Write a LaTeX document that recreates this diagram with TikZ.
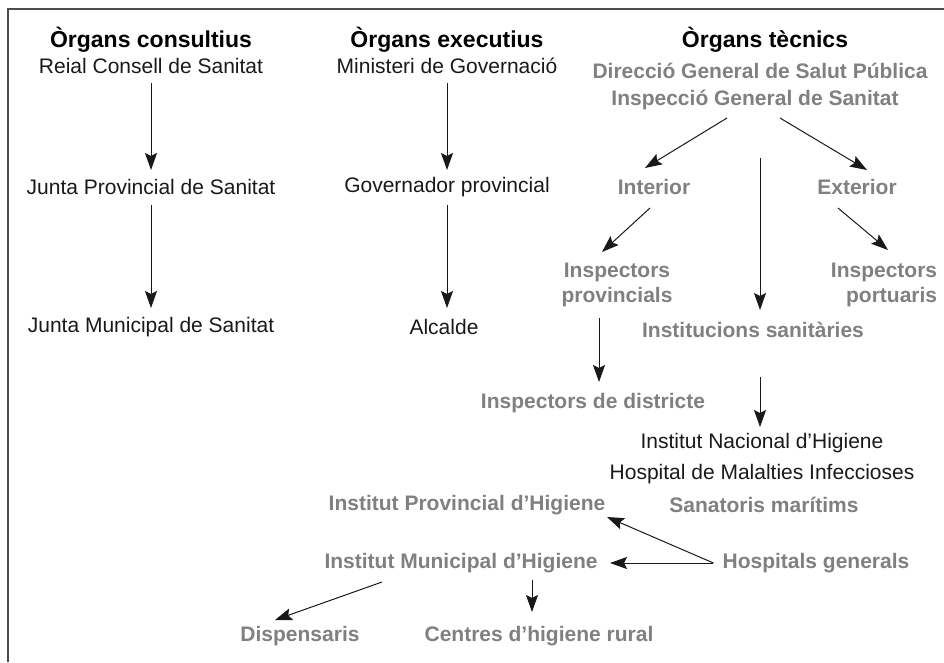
\documentclass[tikz,border=0pt]{standalone}
\usepackage{fontspec}
\setmainfont{Liberation Sans}
\usepackage{tikz}
\usetikzlibrary{arrows.meta,positioning,calc}

\definecolor{txtgrey}{gray}{0.5}
\definecolor{framegrey}{gray}{0.3}

\begin{document}
\begin{tikzpicture}[x=1pt,y=-1pt,on grid,
  head/.style={font=\fontsize{23}{27}\selectfont\bfseries,text=black,inner sep=0pt},
  plain/.style={font=\fontsize{21}{25}\selectfont,text=black!90,inner sep=0pt},
  grey/.style={font=\fontsize{21}{25}\selectfont\bfseries,text=txtgrey,inner sep=0pt},
  arr/.style={-{Stealth[length=17pt,width=12pt,inset=3pt]},line width=1pt,black!90}]
  \useasboundingbox (0,0) rectangle (944,662);
  \draw[framegrey,line width=1.5pt] (8,662) -- (8,9) -- (944,9);

  % column headings
  \node[head] (h1) at (151,40) {Òrgans consultius};
  \node[head] (h2) at (447,40) {Òrgans executius};
  \node[head] (h3) at (765,40) {Òrgans tècnics};

  % consultius
  \node[plain] (c1a) [below=26pt of h1]  {Reial Consell de Sanitat};
  \node[plain] (c1b) [below=121pt of c1a] {Junta Provincial de Sanitat};
  \node[plain] (c1c) [below=140pt of c1b] {Junta Municipal de Sanitat};

  % executius
  \node[plain] (c2a) [below=26pt of h2]  {Ministeri de Governació};
  \node[plain] (c2b) [below=121pt of c2a] {Governador provincial};
  \node[plain] (c2c) [below left=140pt and 3pt of c2b] {Alcalde};

  % tecnics
  \node[grey] (dg)  [below left=31pt and 5pt of h3]   {Direcció General de Salut Pública};
  \node[grey] (igs) [below left=29pt and 5pt of dg]   {Inspecció General de Sanitat};
  \node[grey] (int) [below left=87pt and 101pt of igs]  {Interior};
  \node[grey] (ext) [below right=87pt and 102pt of igs] {Exterior};
  \node[grey,align=center] (ipv) [below left=98pt and 37pt of int]  {Inspectors\\provincials};
  \node[grey,align=right]  (ipt) [below right=98pt and 27pt of ext] {Inspectors\\portuaris};
  \node[grey] (idi) [below left=118pt and 24pt of ipv] {Inspectors de districte};
  \node[grey] (ins) [below left=230pt and 2pt of igs]  {Institucions sanitàries};
  \node[plain] (inh) [below right=113pt and 9pt of ins] {Institut Nacional d’Higiene};
  \node[plain] (hmi) [below=31pt of inh] {Hospital de Malalties Infeccioses};
  \node[grey] (smr) [below right=31pt and 2pt of hmi] {Sanatoris marítims};
  \node[grey] (iph) [left=297pt of smr] {Institut Provincial d’Higiene};
  \node[grey] (imh) [below left=58pt and 6pt of iph] {Institut Municipal d’Higiene};
  \node[grey] (hgn) [right=355pt of imh] {Hospitals generals};
  \node[grey] (dsp) [below left=73pt and 161pt of imh] {Dispensaris};
  \node[grey] (chr) [below right=73pt and 78pt of imh] {Centres d’higiene rural};

  \draw[arr] ($(c1a)+(0,17)$) -- ($(c1b)+(0,-17)$);
  \draw[arr] ($(c1b)+(0,18)$) -- ($(c1c)+(0,-19)$);
  \draw[arr] ($(c2a)+(0,17)$) -- ($(c2b)+(0,-17)$);
  \draw[arr] ($(c2b)+(0,18)$) -- ($(c2c)+(3,-19)$);
  \draw[arr] ($(igs)+(-28,18)$) -- ($(int)+(-9,-19)$);
  \draw[arr] ($(igs)+(25,18)$) -- ($(ext)+(10,-17)$);
  \draw[arr] ($(igs)+(5,58)$) -- ($(ins)+(7,-20)$);
  \draw[arr] ($(int)+(-4,21)$) -- ($(ipv)+(-15,-33)$);
  \draw[arr] ($(ext)+(-19,21)$) -- ($(ipt)+(4,-35)$);
  \draw[arr] ($(ipv)+(-18,33)$) -- ($(idi)+(6,-21)$);
  \draw[arr] ($(ins)+(7,47)$) -- ($(inh)+(-2,-16)$);
  \draw[arr] ($(hgn.west)+(-9,0)$) -- ($(iph)+(140,12)$);
  \draw[arr] ($(hgn.west)+(-9,0)$) -- ($(imh)+(149,0)$);
  \draw[arr] ($(imh)+(-79,19)$) -- ($(dsp)+(-25,-16)$);
  \draw[arr] ($(imh)+(71,17)$) -- ($(chr)+(-7,-24)$);
\end{tikzpicture}
\end{document}
